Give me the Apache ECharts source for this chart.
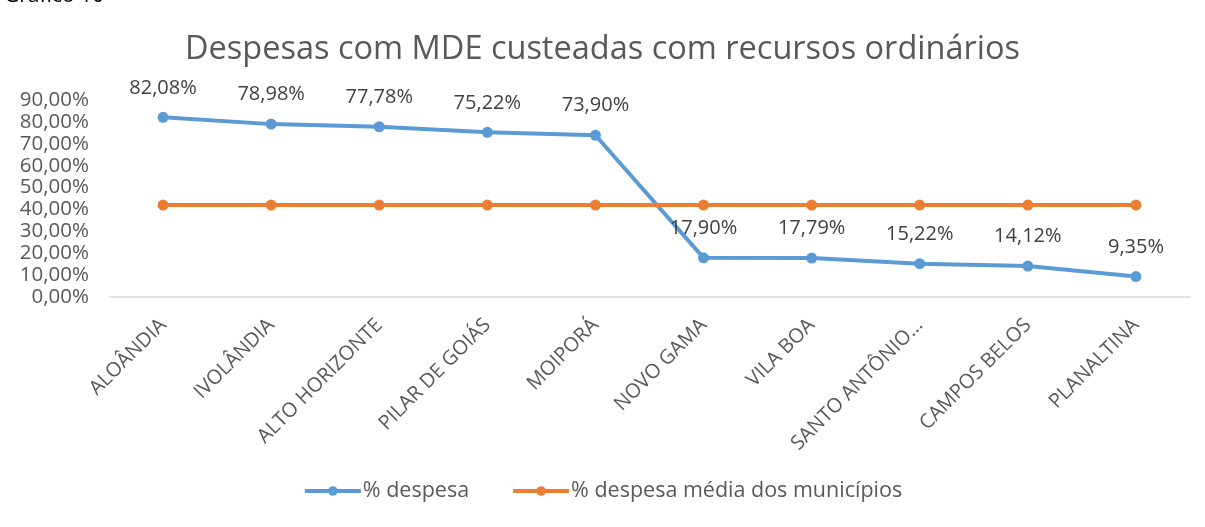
<!DOCTYPE html>
<html>
<head>
<meta charset="utf-8">
<script src="https://cdn.jsdelivr.net/npm/echarts@6/dist/echarts.min.js"></script>
<style>
  html, body { margin: 0; padding: 0; background: #fff; }
  #myChart { width: 1205px; height: 527px; }
</style>
</head>
<body>
<div id="myChart"></div>
<script>
const municipios = ['ALOÂNDIA', 'IVOLÂNDIA', 'ALTO HORIZONTE', 'PILAR DE GOIÁS', 'MOIPORÁ',
  'NOVO GAMA', 'VILA BOA', 'SANTO ANTÔNIO...', 'CAMPOS BELOS', 'PLANALTINA']
const despesa = [82.08, 78.98, 77.78, 75.22, 73.90, 17.90, 17.79, 15.22, 14.12, 9.35]
const despesaMedia = [42, 42, 42, 42, 42, 42, 42, 42, 42, 42]
const yTicks = { min: 0, max: 90, interval: 10 }

function pct(v) {
  return v.toFixed(2).replace('.', ',') + '%'
}

const font = '"Open Sans", "Liberation Sans", sans-serif'
const myChart = echarts.init(document.getElementById('myChart'))
myChart.setOption({
  animation: false,
  textStyle: { fontFamily: font },
  title: {
    text: 'Despesas com MDE custeadas com recursos ordinários',
    left: 'center',
    top: 28,
    textStyle: { fontSize: 32.5, fontWeight: 'normal', color: '#595959', fontFamily: font }
  },
  graphic: [{
    type: 'text',
    left: 4,
    top: -14,
    style: { text: 'Gráfico 10', fontSize: 21, fill: '#000', fontFamily: font }
  }],
  grid: { left: 109, right: 15, top: 100, bottom: 230 },
  legend: {
    bottom: 20,
    left: 'center',
    itemWidth: 56,
    itemHeight: 12,
    itemGap: 42,
    lineStyle: { width: 4 },
    textStyle: { fontSize: 21.5, color: '#595959', padding: [0, 0, 0, -3] },
    data: ['% despesa', '% despesa média dos municípios']
  },
  xAxis: {
    type: 'category',
    data: municipios,
    axisLine: { lineStyle: { color: '#d9d9d9', width: 1.5 } },
    axisTick: { show: false },
    axisLabel: { rotate: 45, interval: 0, fontSize: 20, color: '#595959', margin: 25 }
  },
  yAxis: {
    type: 'value',
    min: yTicks.min,
    max: yTicks.max,
    interval: yTicks.interval,
    splitLine: { show: false },
    axisLine: { show: false },
    axisLabel: { fontSize: 20.5, color: '#595959', margin: 20, formatter: pct }
  },
  series: [
    {
      name: '% despesa',
      type: 'line',
      data: despesa,
      symbol: 'circle',
      symbolSize: 11,
      lineStyle: { width: 4, color: '#5B9BD5' },
      itemStyle: { color: '#5B9BD5' },
      label: {
        show: true,
        position: 'top',
        distance: 14,
        fontSize: 20,
        color: '#404040',
        formatter: p => pct(p.value)
      }
    },
    {
      name: '% despesa média dos municípios',
      type: 'line',
      data: despesaMedia,
      symbol: 'circle',
      symbolSize: 11,
      lineStyle: { width: 4, color: '#ED7D31' },
      itemStyle: { color: '#ED7D31' }
    }
  ]
})
</script>
</body>
</html>
